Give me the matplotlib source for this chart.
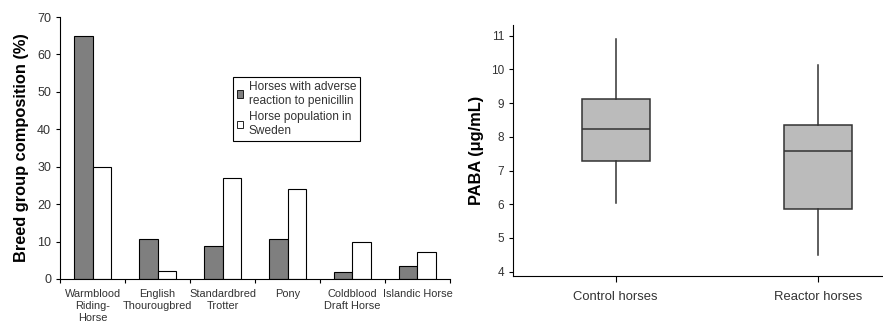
import numpy as np
import matplotlib.pyplot as plt
from matplotlib.patches import Patch

plt.rcParams['font.family'] = ['Liberation Sans', 'DejaVu Sans']

# breed composition (%)
breeds = ['Warmblood\nRiding-\nHorse', 'English\nThourougbred', 'Standardbred\nTrotter',
          'Pony', 'Coldblood\nDraft Horse', 'Islandic Horse']
reactors = [65, 10.7, 8.9, 10.8, 1.8, 3.5]
population = [30, 2, 27, 24, 10, 7.2]

# PABA concentration summaries (µg/mL)
groups = ['Control horses', 'Reactor horses']
whislo = [6.05, 4.48]
q1 = [7.28, 5.86]
med = [8.22, 7.58]
q3 = [9.13, 8.36]
whishi = [10.9, 10.13]

fig = plt.figure(figsize=(8.83, 3.24), dpi=100)

# left panel: grouped bars
ax1 = fig.add_axes([0.068, 0.139, 0.4416, 0.8085])
x = np.arange(len(breeds))
w = 0.29
ax1.bar(x - w / 2, reactors, w, color='#7f7f7f', edgecolor='black', linewidth=0.8)
ax1.bar(x + w / 2, population, w, color='white', edgecolor='black', linewidth=0.8)
ax1.set_xlim(-0.5, len(breeds) - 0.5)
ax1.set_ylim(0, 70)
ax1.set_yticks(range(0, 71, 10))
ax1.set_xticks(x)
ax1.set_xticklabels(breeds, fontsize=7.9, color='#333333', linespacing=1.2)
ax1.set_xticks(np.arange(-0.5, len(breeds)), minor=True)
ax1.tick_params(axis='x', which='major', length=0, pad=7.5)
ax1.tick_params(axis='x', which='minor', length=3, width=0.8)
ax1.tick_params(axis='y', length=3, width=0.8, labelsize=9, labelcolor='#333333')
for s in ['top', 'right']:
    ax1.spines[s].set_visible(False)
ax1.set_ylabel('Breed group composition (%)', fontsize=11.8, fontweight='bold', labelpad=6)

handles = [Patch(facecolor='#7f7f7f', edgecolor='black', linewidth=0.6),
           Patch(facecolor='white', edgecolor='black', linewidth=0.6)]
leg = ax1.legend(handles, ['Horses with adverse\nreaction to penicillin',
                           'Horse population in\nSweden'],
                 loc='upper left', bbox_to_anchor=(0.444, 0.771), borderaxespad=0,
                 fontsize=8.6, fancybox=False, edgecolor='black', framealpha=1,
                 handlelength=0.55, handleheight=0.55, handletextpad=0.45,
                 borderpad=0.3, labelspacing=0.35)
leg.get_frame().set_linewidth(0.8)
for t in leg.get_texts():
    t.set_color('#333333')
    t.set_linespacing(1.25)

# right panel: box plot
ax2 = fig.add_axes([0.581, 0.148, 0.419, 0.775])
stats = [dict(label=g, whislo=a, q1=b, med=c, q3=d, whishi=e, fliers=[])
         for g, a, b, c, d, e in zip(groups, whislo, q1, med, q3, whishi)]
ax2.bxp(stats, positions=[1, 2], widths=0.335, patch_artist=True, showcaps=False,
        boxprops=dict(facecolor='#bbbbbb', edgecolor='#333333', linewidth=1.1),
        medianprops=dict(color='#333333', linewidth=1.1),
        whiskerprops=dict(color='#333333', linewidth=1.1))
ax2.set_xlim(0.492, 2.323)
ax2.set_ylim(3.87, 11.32)
ax2.set_yticks(range(4, 12))
ax2.tick_params(axis='y', length=3, width=0.8, labelsize=8.5, labelcolor='#333333')
ax2.tick_params(axis='x', length=4, width=0.8, labelsize=9.4, labelcolor='#333333', pad=7)
for s in ['top', 'right']:
    ax2.spines[s].set_visible(False)
ax2.set_ylabel('PABA (\u03bcg/mL)', fontsize=11.8, fontweight='bold', labelpad=5)

fig.savefig('out.png', dpi=100)
